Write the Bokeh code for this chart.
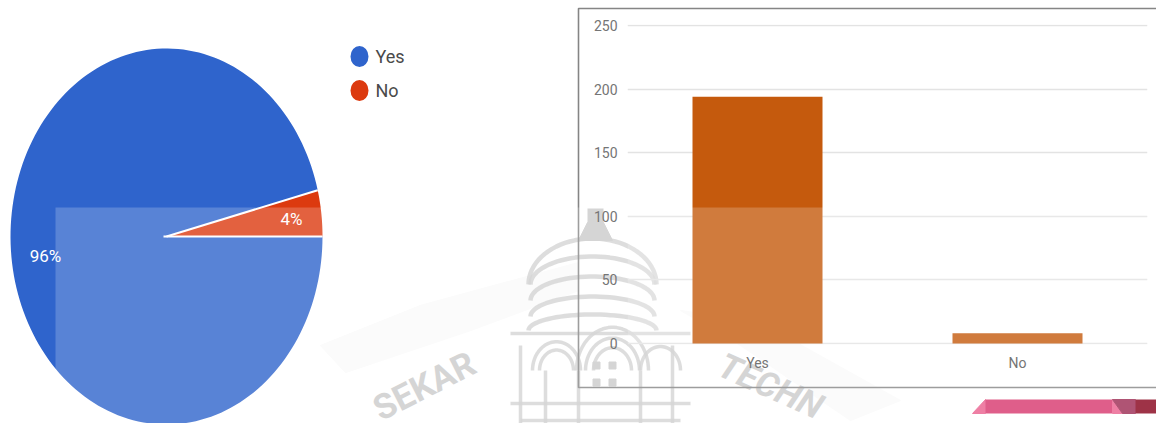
import numpy as np
from bokeh.core.properties import value
from bokeh.embed import file_html
from bokeh.layouts import column
from bokeh.models import BoxAnnotation, Range1d
from bokeh.plotting import figure
from bokeh.resources import INLINE

# Survey answers
categories = ["Yes", "No"]
counts = [194, 8]
share_labels = ["96%", "4%"]
y_ticks = [0, 50, 100, 150, 200, 250]

PIE_COLORS = ["#2f64cc", "#dc3a0f"]
BAR_COLOR = "#c55a0d"
WIDTH, HEIGHT = 1156, 423
FONT = value("Roboto")
VEIL = dict(fill_color="white", fill_alpha=0.2, line_color=None)

# Backdrop: pie, legend, watermark, chart frame and page ribbon, in page pixels
back = figure(
    width=WIDTH, height=HEIGHT, output_backend="svg", toolbar_location=None,
    x_range=Range1d(0, WIDTH), y_range=Range1d(HEIGHT, 0),
    x_axis_type=None, y_axis_type=None, min_border=0, outline_line_color=None,
    background_fill_color="white", border_fill_color="white", frame_align=False,
)
back.grid.visible = False

# Faint swooshes behind the watermark
back.patch([320, 420, 578, 578, 470, 345], [345, 305, 262, 290, 330, 372], color="#fafafa")
back.patch([680, 760, 900, 850, 740], [310, 322, 400, 420, 345], color="#fbfbfb")

# Watermark: college crest and lettering
crest = "#cbcbcb"
t = np.linspace(np.pi, 0, 40)
for r_x, r_y, cy in [(64, 46, 284), (62, 28, 284), (62, 24, 300), (62, 20, 316), (64, 16, 330)]:
    back.line(592 + r_x * np.cos(t), cy - r_y * np.sin(t), line_color=crest, line_width=4.5, line_alpha=0.8)
back.quad(left=[587], right=[603], top=[208], bottom=[238], fill_color=crest, line_color=None)
back.patch([578, 612, 603, 587], [240, 240, 222, 222], color=crest)
for cx, r in [(556, 24), (556, 17), (612, 36), (612, 27), (612, 19), (660, 20)]:
    back.line(cx + r * np.cos(t), 370 - r * np.sin(t) * 1.2, line_color=crest, line_width=3.5, line_alpha=0.8)
back.multi_line(
    [[520, 520], [545, 545], [578, 578], [640, 640], [672, 672], [510, 690], [510, 690], [520, 680]],
    [[345, 423], [370, 423], [370, 423], [370, 423], [345, 423], [333, 333], [403, 403], [420, 420]],
    line_color=crest, line_width=3.5, line_alpha=0.8,
)
back.square(x=[596, 612, 596, 612], y=[365, 365, 382, 382], size=7, color=crest)
back.text(x=[424], y=[386], text=["SEKAR"], angle=[np.radians(27)], angle_units="rad",
          text_align="center", text_baseline="alphabetic", text_color=crest,
          text_font=FONT, text_font_size="35px", text_font_style="bold")
back.text(x=[770], y=[386], text=["TECHN"], angle=[np.radians(-24)], angle_units="rad",
          text_align="center", text_baseline="alphabetic", text_color=crest,
          text_font=FONT, text_font_size="35px", text_font_style="bold italic")

# Pie, stretched vertically, built from the answer counts
CX, CY, RX, RY = 166, 236, 156, 188
total = sum(counts)
no_angle = 2 * np.pi * counts[1] / total
spans = [(no_angle, 2 * np.pi), (0, no_angle)]
for (a0, a1), color in zip(spans, PIE_COLORS):
    a = np.linspace(a0, a1, 180)
    back.patch(
        np.r_[CX, CX + RX * np.cos(a)], np.r_[CY, CY - RY * np.sin(a)],
        fill_color=color, line_color=None,
    )
for a in (0, no_angle):
    back.line([CX - 3 * (a == 0), CX + RX * np.cos(a)], [CY, CY - RY * np.sin(a)],
              line_color="white", line_width=2)
back.text(x=[45, 291], y=[255, 218], text=share_labels, text_color="white",
          text_align="center", text_baseline="middle", text_font=FONT, text_font_size="17px")

# Legend
for i, (name, color) in enumerate(zip(categories, PIE_COLORS)):
    row_y = 56 + 34 * i
    back.ellipse(x=[359], y=[row_y], width=[18], height=[21], fill_color=color, line_color=None)
    back.text(x=[375], y=[row_y], text=[name], text_color="#4a4a4a", text_baseline="middle",
              text_font=FONT, text_font_size="18px")

# Frame around the bar chart, open on the page edge
back.line([1156, 578, 578, 1156], [8, 8, 387, 387], line_color="#858585", line_width=1.6)

# Ribbon at the foot of the page
back.patch([972, 985, 985], [413, 399, 413], color="#ea5f8e")
back.quad(left=[985], right=[1112], top=[399], bottom=[413], fill_color="#d8366d", line_color=None)
back.patch([1112, 1122, 1112], [399, 413, 413], color="#ea5f8e")
back.patch([1112, 1135, 1135, 1122], [399, 399, 413, 413], color="#9c2a52")
back.quad(left=[1135], right=[1156], top=[399], bottom=[413], fill_color="#86001a", line_color=None)

# Pale veil across the lower right of the page
back.quad(left=[55], right=[WIDTH], top=[207], bottom=[HEIGHT], **VEIL)

# Bar chart laid over the backdrop; the borders place its plot area on the page
bars = figure(
    width=WIDTH, height=HEIGHT, output_backend="svg", toolbar_location=None,
    x_range=categories, y_range=Range1d(-0.8, 250.8),
    min_border_left=627, min_border_right=9, min_border_top=24, min_border_bottom=79,
    outline_line_color=None, background_fill_alpha=0, border_fill_alpha=0, frame_align=False,
)
bars.margin = (-HEIGHT, 0, 0, 0)
bars.vbar(x=categories, top=counts, width=0.5, fill_color=BAR_COLOR, line_color=None)
bars.xgrid.visible = False
bars.ygrid.grid_line_color = "#e3e3e3"
bars.ygrid.grid_line_width = 1.5
bars.yaxis.ticker = y_ticks
for axis in (bars.xaxis[0], bars.yaxis[0]):
    axis.axis_line_color = None
    axis.major_tick_line_color = None
    axis.minor_tick_line_color = None
    axis.major_label_text_color = "#757575"
    axis.major_label_text_font = "Roboto"
    axis.major_label_text_font_size = "14px"
bars.yaxis.major_label_standoff = 4
bars.xaxis.major_label_standoff = 4

# The same veil over the lower part of the bars
bars.add_layout(BoxAnnotation(top=107, **VEIL))

page = column(back, bars, spacing=0)
open("out.html", "w").write(file_html(page, INLINE))
